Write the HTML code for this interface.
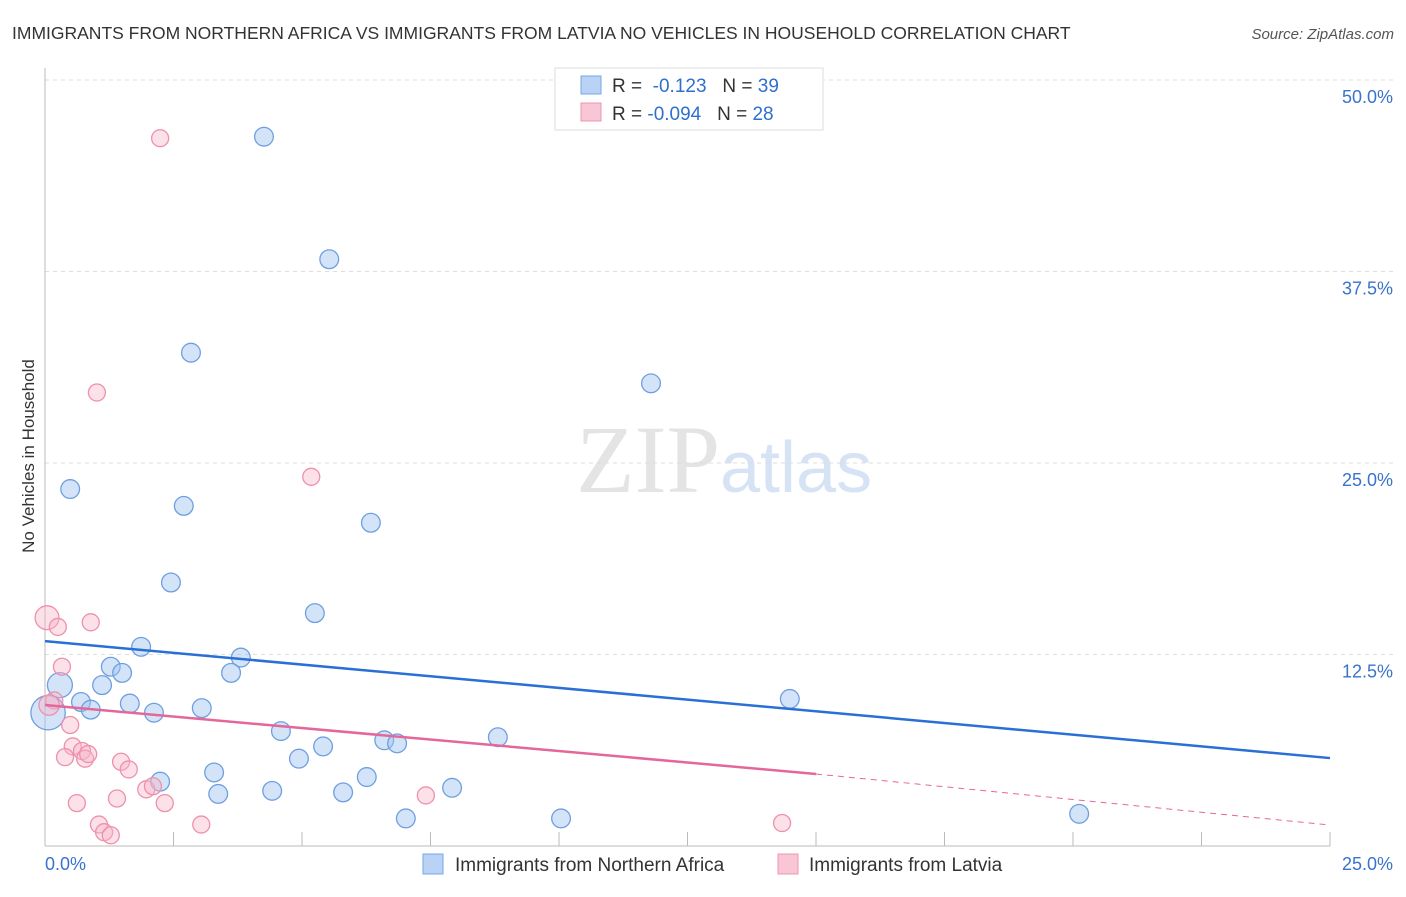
<!DOCTYPE html>
<html><head><meta charset="utf-8"><style>
body{margin:0;background:#fff;font-family:"Liberation Sans",sans-serif}
</style></head><body>
<svg width="1406" height="892" xmlns="http://www.w3.org/2000/svg">
<text x="12" y="39" font-size="17.5" fill="#333">IMMIGRANTS FROM NORTHERN AFRICA VS IMMIGRANTS FROM LATVIA NO VEHICLES IN HOUSEHOLD CORRELATION CHART</text>
<text x="1394" y="39" font-size="15" fill="#555" font-style="italic" text-anchor="end">Source: ZipAtlas.com</text>
<text x="720" y="492" font-size="96" fill="#e4e4e4" text-anchor="end" font-family="Liberation Serif">ZIP</text>
<text x="720" y="492" font-size="72" fill="#d6e3f5">atlas</text>
<g id="grid"></g>
<g id="axes"></g>
<g id="marks"></g>
<text transform="translate(34,456) rotate(-90)" font-size="17" fill="#333" text-anchor="middle">No Vehicles in Household</text>
<g>
<rect x="555" y="68" width="268" height="62" fill="#fff" stroke="#ddd"/>
<rect x="581" y="76" width="20" height="18" fill="#b8d3f5" stroke="#7aa6e6"/>
<rect x="581" y="103" width="20" height="18" fill="#f9c6d5" stroke="#ee95b0"/>
<text x="612" y="92" font-size="19" fill="#333">R = <tspan fill="#2f6fd0">&#160;-0.123</tspan>&#160;&#160;&#160;N = <tspan fill="#2f6fd0">39</tspan></text>
<text x="612" y="120" font-size="19" fill="#333">R = <tspan fill="#2f6fd0">-0.094</tspan>&#160;&#160;&#160;N = <tspan fill="#2f6fd0">28</tspan></text>
</g>
<g>
<rect x="423" y="854" width="20" height="20" fill="#b8d3f5" stroke="#7aa6e6"/>
<text x="455" y="871" font-size="19" fill="#333">Immigrants from Northern Africa</text>
<rect x="778" y="854" width="20" height="20" fill="#f9c6d5" stroke="#ee95b0"/>
<text x="809" y="871" font-size="19" fill="#333">Immigrants from Latvia</text>
</g>
</svg>
<script>
const blueX=[4.26,5.53,2.84,11.79,0.49,2.70,6.34,2.45,5.25,1.87,3.81,1.28,1.50,3.62,0.29,1.11,14.49,0.70,0.89,1.65,2.12,3.05,0.06,4.59,6.60,6.85,8.81,5.41,4.94,3.29,6.26,2.24,7.92,3.37,4.42,5.80,7.02,10.04,20.12];
const blueY=[46.3,38.3,32.2,30.2,23.3,22.2,21.1,17.2,15.2,13.0,12.3,11.7,11.3,11.3,10.5,10.5,9.6,9.4,8.9,9.3,8.7,9.0,8.7,7.5,6.9,6.7,7.1,6.5,5.7,4.8,4.5,4.2,3.8,3.4,3.6,3.5,1.8,1.8,2.1];
const blueR=[12,12,12,12,12,12,12,12,12,12,12,12,12,12,16,12,12,12,12,12,12,12,22,12,12,12,12,12,12,12,12,12,12,12,12,12,12,12,12];
const pinkX=[2.24,1.01,5.18,0.04,0.25,0.89,0.33,0.18,0.49,0.54,0.39,0.72,0.78,0.84,1.48,1.63,1.97,2.10,2.33,0.62,1.40,3.04,7.41,1.05,1.15,1.28,14.34,0.08];
const pinkY=[46.2,29.6,24.1,14.9,14.3,14.6,11.7,9.5,7.9,6.5,5.8,6.2,5.7,6.0,5.5,5.0,3.7,3.9,2.8,2.8,3.1,1.4,3.3,1.4,0.9,0.7,1.5,9.2];
const pinkR=[10,10,10,14,10,10,10,10,10,10,10,10,10,10,10,10,10,10,10,10,10,10,10,10,10,10,10,12];
const yTicks=[12.5,25.0,37.5,50.0];
const blueTrend=[13.37,5.74];
const pinkTrend=[9.2,4.7,1.37];
const X0=45,X1=1330,Y0=846,Y50=80;
const sx=v=>X0+(X1-X0)*v/25, sy=v=>Y0-(Y0-Y50)*v/50;
const NS="http://www.w3.org/2000/svg";
function mk(tag,attrs,parent){const e=document.createElementNS(NS,tag);for(const k in attrs)e.setAttribute(k,attrs[k]);document.getElementById(parent).appendChild(e);return e;}
yTicks.forEach(t=>{
 const g=mk('line',{x1:X0,x2:1394,y1:sy(t),y2:sy(t),stroke:'#ddd','stroke-dasharray':'4,4'},'grid');
 
 
 const l=mk('text',{x:1393,y:sy(t)+23,'font-size':18,fill:'#3a73cc','text-anchor':'end'},'grid');
 l.textContent=t.toFixed(1)+'%';
 
 
});
const ax=mk('line',{x1:X0,x2:X0,y1:68,y2:846,stroke:'#bbb'},'axes');


const bx=mk('line',{x1:X0,x2:X1,y1:846,y2:846,stroke:'#bbb'},'axes');


for(let i=1;i<=10;i++){const t=mk('line',{x1:sx(i*2.5),x2:sx(i*2.5),y1:832,y2:846,stroke:'#bbb'},'axes');
 
 }
[['0.0%',45,'start'],['25.0%',1393,'end']].forEach(a=>{const t=mk('text',{x:a[1],y:870,'font-size':18,fill:'#3a73cc','text-anchor':a[2]},'axes');t.textContent=a[0];
 
 });
blueX.forEach((x,i)=>{const c=mk('circle',{cx:sx(x),cy:sy(blueY[i]),r:blueR[i]*0.78,fill:'rgba(160,196,240,0.45)',stroke:'#6f9fe0','stroke-width':1.3},'marks');
 
 });
pinkX.forEach((x,i)=>{const c=mk('circle',{cx:sx(x),cy:sy(pinkY[i]),r:pinkR[i]*0.85,fill:'rgba(248,180,200,0.4)',stroke:'#ee90ae','stroke-width':1.3},'marks');
 
 });
const bl=mk('line',{x1:sx(0),y1:sy(blueTrend[0]),x2:sx(25),y2:sy(blueTrend[1]),stroke:'#2a6fd6','stroke-width':2.5},'marks');


const pl=mk('line',{x1:sx(0),y1:sy(pinkTrend[0]),x2:sx(15),y2:sy(pinkTrend[1]),stroke:'#e4679a','stroke-width':2.5},'marks');


const pd=mk('line',{x1:sx(15),y1:sy(pinkTrend[1]),x2:sx(25),y2:sy(pinkTrend[2]),stroke:'#e4679a','stroke-width':1,'stroke-dasharray':'6,5'},'marks');


</script>
</body></html>
